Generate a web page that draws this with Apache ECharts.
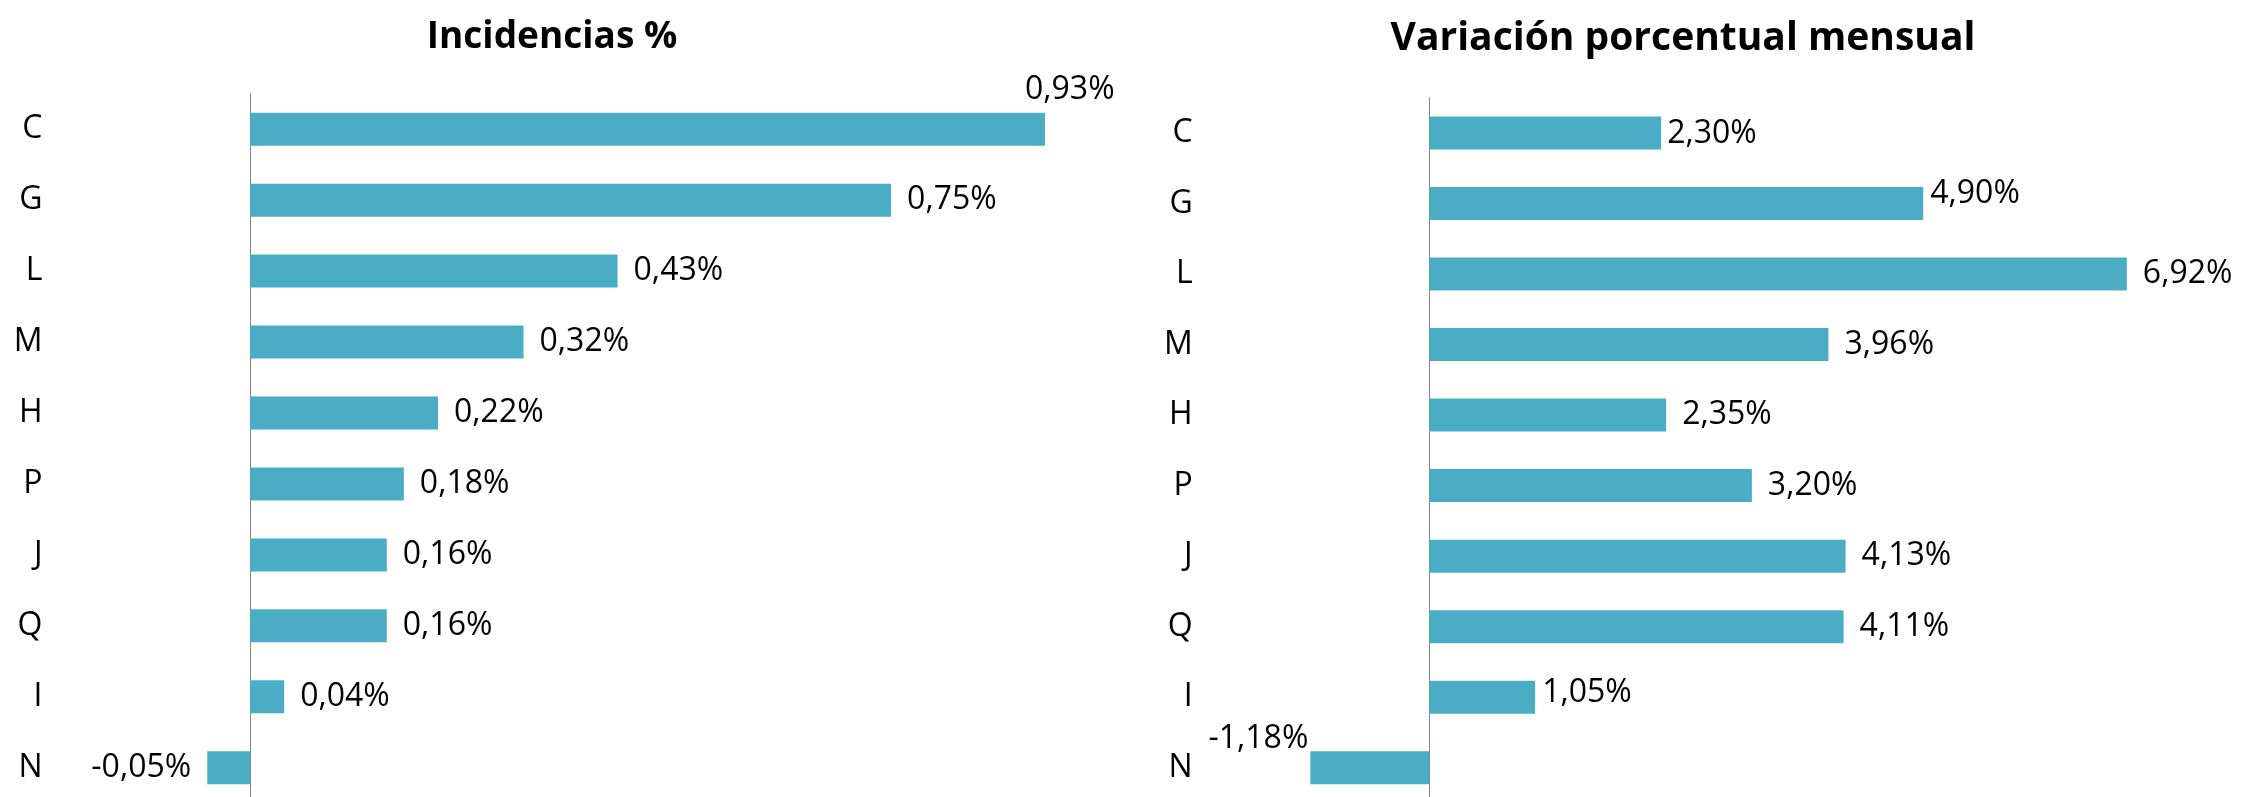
<!DOCTYPE html>
<html>
<head>
<meta charset="utf-8">
<script src="https://cdn.jsdelivr.net/npm/echarts@6/dist/echarts.min.js"></script>
<style>
html,body{margin:0;padding:0;background:#fff;}
#chart{width:2245px;height:797px;}
</style>
</head>
<body>
<div id="chart"></div>
<script>
// ---- Data ----
const categories = ['C', 'G', 'L', 'M', 'H', 'P', 'J', 'Q', 'I', 'N'];
const incidencias = [0.93, 0.75, 0.43, 0.32, 0.22, 0.18, 0.16, 0.16, 0.04, -0.05];
const variacion = [2.30, 4.90, 6.92, 3.96, 2.35, 3.20, 4.13, 4.11, 1.05, -1.18];
const titles = ['Incidencias %', 'Variación porcentual mensual'];

// ---- Label placement tweaks (Excel-like label positions) ----
const leftLabelTweaks = {
  C: { offset: [-36, -39] }
};
const rightLabelTweaks = {
  C: { offset: [-10, 1] },
  G: { offset: [-9, -10] },
  I: { offset: [-9, -4] },
  N: { offset: [14, -29] }
};

const FONT = '"Open Sans", "Noto Sans", sans-serif';
const BAR_COLOR = '#4BACC6';

function fmt(v) {
  return v.toFixed(2).replace('.', ',') + '%';
}

function buildData(values, tweaks) {
  return values.map((v, i) => {
    const t = tweaks[categories[i]] || {};
    const label = { position: v < 0 ? 'left' : 'right' };
    if (t.offset) label.offset = t.offset;
    return { value: v, label: label };
  });
}

const chart = echarts.init(document.getElementById('chart'), null, { renderer: 'canvas' });

const labelStyle = {
  show: true,
  color: '#000',
  fontFamily: FONT,
  fontSize: 32,
  distance: 16,
  formatter: p => fmt(p.value)
};

const option = {
  backgroundColor: '#fff',
  animation: false,
  title: [
    { text: titles[0], left: 547, top: 14, textAlign: 'center',
      textStyle: { fontFamily: FONT, fontSize: 37, fontWeight: 'bold', color: '#000' } },
    { text: titles[1], left: 1678, top: 14, textAlign: 'center',
      textStyle: { fontFamily: FONT, fontSize: 39, fontWeight: 'bold', color: '#000' } }
  ],
  grid: [
    { left: 164.5, width: 940.3, top: 93.7, height: 709.5, containLabel: false, outerBoundsMode: 'none' },
    { left: 1227.7, width: 1008, top: 97.7, height: 705.3, containLabel: false, outerBoundsMode: 'none' }
  ],
  xAxis: [
    { type: 'value', gridIndex: 0, min: -0.1, max: 1.0,
      axisLine: { show: false }, axisTick: { show: false },
      axisLabel: { show: false }, splitLine: { show: false } },
    { type: 'value', gridIndex: 1, min: -2, max: 8,
      axisLine: { show: false }, axisTick: { show: false },
      axisLabel: { show: false }, splitLine: { show: false } }
  ],
  yAxis: [
    { type: 'category', gridIndex: 0, data: categories, inverse: true,
      axisLine: { show: true, onZero: true, lineStyle: { color: '#868686', width: 1 } },
      axisTick: { show: false },
      axisLabel: { color: '#000', fontFamily: FONT, fontSize: 32, margin: 122 } },
    { type: 'category', gridIndex: 1, data: categories, inverse: true,
      axisLine: { show: true, onZero: true, lineStyle: { color: '#868686', width: 1 } },
      axisTick: { show: false },
      axisLabel: { color: '#000', fontFamily: FONT, fontSize: 32, margin: 35 } }
  ],
  series: [
    { type: 'bar', xAxisIndex: 0, yAxisIndex: 0, barWidth: 33,
      itemStyle: { color: BAR_COLOR },
      label: labelStyle,
      data: buildData(incidencias, leftLabelTweaks) },
    { type: 'bar', xAxisIndex: 1, yAxisIndex: 1, barWidth: 33,
      itemStyle: { color: BAR_COLOR },
      label: labelStyle,
      data: buildData(variacion, rightLabelTweaks) }
  ]
};

chart.setOption(option);
</script>
</body>
</html>
